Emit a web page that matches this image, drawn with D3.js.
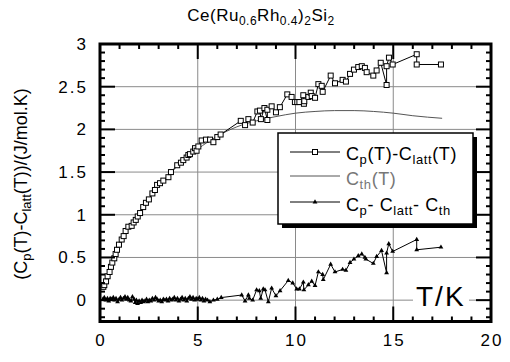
<!DOCTYPE html>
<html><head><meta charset="utf-8">
<script src="https://cdn.jsdelivr.net/npm/d3@7"></script>
<style>body{margin:0;background:#fff}svg{display:block;font-family:"Liberation Sans",Arial,sans-serif}</style>
</head><body><svg id="c" width="510" height="362"></svg>
<script>
// Cp(T)-Clatt(T) : [T, value]
const cpClatt = [[0.17,0.156],[0.22,0.176],[0.31,0.22],[0.39,0.28],[0.49,0.33],[0.56,0.39],[0.63,0.44],[0.73,0.49],[0.80,0.54],[0.87,0.59],[0.97,0.65],[1.11,0.71],[1.21,0.75],[1.31,0.81],[1.45,0.86],[1.62,0.87],[1.72,0.91],[1.83,0.94],[1.93,0.98],[2.05,1.02],[2.21,1.09],[2.35,1.14],[2.50,1.18],[2.68,1.25],[2.81,1.29],[2.92,1.35],[3.07,1.37],[3.24,1.40],[3.50,1.44],[3.63,1.50],[3.95,1.58],[4.14,1.61],[4.26,1.64],[4.43,1.67],[4.52,1.70],[4.60,1.71],[4.77,1.74],[4.86,1.78],[4.94,1.75],[5.03,1.80],[5.20,1.87],[5.42,1.88],[5.63,1.88],[5.80,1.85],[6.00,1.91],[6.17,1.94],[7.20,2.10],[7.42,2.05],[7.59,2.12],[7.81,2.08],[8.05,2.21],[8.18,2.22],[8.23,2.12],[8.41,2.25],[8.56,2.11],[8.56,2.23],[8.78,2.27],[9.00,2.20],[9.20,2.26],[9.58,2.41],[9.80,2.38],[9.97,2.32],[10.09,2.32],[10.20,2.32],[10.40,2.40],[10.43,2.30],[10.45,2.33],[10.66,2.38],[10.78,2.43],[10.83,2.39],[11.00,2.37],[11.17,2.53],[11.34,2.51],[11.39,2.44],[11.80,2.63],[12.02,2.54],[12.41,2.58],[12.58,2.56],[12.79,2.65],[12.99,2.70],[13.21,2.73],[13.39,2.74],[13.55,2.72],[13.64,2.67],[13.98,2.63],[14.15,2.69],[14.36,2.78],[14.66,2.52],[14.66,2.74],[14.78,2.84],[14.97,2.76],[16.20,2.88],[16.20,2.76],[17.44,2.76]];
// Cth(T)
const cth = [[0.17,0.14],[0.5,0.34],[1,0.66],[1.5,0.86],[2,1.0],[2.5,1.18],[3,1.35],[3.5,1.46],[4,1.58],[4.5,1.68],[5,1.77],[5.5,1.85],[6,1.92],[7,2.03],[8,2.10],[9,2.15],[10,2.19],[11,2.21],[12,2.22],[13,2.22],[14,2.21],[15,2.19],[16,2.16],[17.5,2.13]];
// Cp - Clatt - Cth
const diff = [[0.15,0.01],[0.22,0.03],[0.3,0.0],[0.38,0.02],[0.45,-0.01],[0.52,0.02],[0.6,0.01],[0.68,0.03],[0.75,0.0],[0.82,0.02],[0.9,-0.02],[0.98,0.01],[1.05,0.03],[1.12,0.0],[1.2,0.02],[1.28,0.04],[1.35,0.01],[1.42,0.03],[1.5,0.0],[1.58,-0.01],[1.66,0.04],[1.74,0.01],[1.8,-0.03],[1.86,0.0],[1.92,-0.04],[2.0,-0.01],[2.08,-0.03],[2.15,0.0],[2.22,-0.02],[2.3,-0.01],[2.38,0.01],[2.45,-0.02],[2.52,0.0],[2.6,-0.01],[2.68,0.02],[2.76,0.0],[2.84,0.03],[2.92,0.01],[3.0,-0.01],[3.08,0.0],[3.16,-0.02],[3.24,0.01],[3.32,0.0],[3.4,0.01],[3.48,-0.01],[3.56,0.02],[3.64,0.0],[3.72,0.01],[3.8,0.03],[3.88,0.0],[3.96,0.02],[4.04,-0.01],[4.12,0.01],[4.2,0.03],[4.28,0.0],[4.36,0.02],[4.44,-0.01],[4.52,0.02],[4.6,0.04],[4.68,0.01],[4.76,0.03],[4.84,0.0],[4.92,0.02],[5.0,0.01],[5.08,0.03],[5.16,0.0],[5.24,0.02],[5.32,-0.01],[5.4,0.01],[5.5,0.0],[5.62,-0.02],[5.8,0.0],[6.0,0.01],[6.2,0.03],[7.25,0.06],[7.42,-0.01],[7.59,0.06],[7.64,0.02],[7.81,0.0],[8.01,0.12],[8.15,0.11],[8.22,0.02],[8.35,0.13],[8.44,0.12],[8.61,-0.02],[8.78,0.14],[9.0,0.05],[9.21,0.11],[9.63,0.23],[9.86,0.20],[10.06,0.13],[10.2,0.13],[10.4,0.21],[10.43,0.12],[10.66,0.18],[10.83,0.22],[11.0,0.17],[11.17,0.33],[11.39,0.30],[11.42,0.24],[11.8,0.42],[12.02,0.33],[12.41,0.36],[12.58,0.35],[12.79,0.44],[12.99,0.48],[13.21,0.52],[13.39,0.54],[13.55,0.50],[13.6,0.48],[13.98,0.43],[14.15,0.51],[14.4,0.58],[14.66,0.32],[14.66,0.55],[14.77,0.66],[14.97,0.57],[16.2,0.71],[16.2,0.59],[17.44,0.62]];
const xTickLabels = ["0","5","10","15","20"];
const yTickLabels = ["0","0.5","1","1.5","2","2.5","3"];

const svg = d3.select("#c");
const x = d3.scaleLinear().domain([0,20]).range([100,491]);
const y = d3.scaleLinear().domain([-0.25,3]).range([321.5,44]);
const L=100,R=491,T=44,B=321.5;

// grid
const g = svg.append("g");
[5,10,15].forEach(v=>g.append("line").attr("x1",x(v)).attr("x2",x(v)).attr("y1",T).attr("y2",B).attr("stroke","#8a8a8a").attr("stroke-width",1));
[0,0.5,1,1.5,2,2.5].forEach(v=>g.append("line").attr("x1",L).attr("x2",R).attr("y1",y(v)).attr("y2",y(v)).attr("stroke","#8a8a8a").attr("stroke-width",1));

// lines
const line = d3.line().x(d=>x(d[0])).y(d=>y(d[1]));
svg.append("path").attr("d",d3.line().x(d=>x(d[0])).y(d=>y(d[1])).curve(d3.curveMonotoneX)(cth)).attr("fill","none").attr("stroke","#555").attr("stroke-width",1);
svg.append("path").attr("d",line(diff)).attr("fill","none").attr("stroke","#000").attr("stroke-width",1);
svg.append("path").attr("d",line(cpClatt)).attr("fill","none").attr("stroke","#000").attr("stroke-width",1);
const tri = d3.symbol().type(d3.symbolTriangle).size(10);
svg.append("g").selectAll("path").data(diff).join("path").attr("d",tri).attr("transform",d=>`translate(${x(d[0])},${y(d[1])})`).attr("fill","#000");
svg.append("g").selectAll("rect").data(cpClatt).join("rect").attr("x",d=>x(d[0])-2.5).attr("y",d=>y(d[1])-2.5).attr("width",5).attr("height",5).attr("fill","#fff").attr("stroke","#000").attr("stroke-width",1);

// frame & ticks
const f = svg.append("g").attr("stroke","#000");
function tk(x1,y1,x2,y2,w){f.append("line").attr("x1",x1).attr("y1",y1).attr("x2",x2).attr("y2",y2).attr("stroke-width",w);}
for(let i=0;i<=20;i++){const px=x(i),maj=i%5===0;const len=maj?15:5;tk(px,B,px,B-len,2);tk(px,T,px,T+len,2);}
for(let k=-2;k<=30;k++){const v=k/10,py=y(v),maj=k%5===0;const len=maj?15:5;tk(L,py,L+len,py,2);tk(R,py,R-len,py,2);}
svg.append("rect").attr("x",L).attr("y",T).attr("width",R-L).attr("height",B-T).attr("fill","none").attr("stroke","#000").attr("stroke-width",3);

// tick labels
const lab = svg.append("g").attr("font-size",17).attr("fill","#000").style("letter-spacing","2px");
xTickLabels.forEach(t=>lab.append("text").attr("x",x(+t)+1).attr("y",346).attr("text-anchor","middle").text(t));
yTickLabels.forEach(t=>lab.append("text").attr("x",88).attr("y",y(+t)+6).attr("text-anchor","end").text(t));

// rich text with subscripts: parts = [[text, isSub], ...]
function rich(el, parts, subSize){
  let prevSub=false;
  parts.forEach(([s,isSub])=>{
    const ts=el.append("tspan").text(s);
    if(isSub && !prevSub){ts.attr("dy",4).attr("font-size",subSize);}
    else if(isSub){ts.attr("font-size",subSize);}
    else if(prevSub){ts.attr("dy",-4);}
    prevSub=isSub;
  });
}

// title
const tt = svg.append("text").attr("x",261).attr("y",21).attr("text-anchor","middle").attr("font-size",17).style("letter-spacing","0.5px");
rich(tt,[["Ce(Ru",0],["0.6",1],["Rh",0],["0.4",1],[")",0],["2",1],["Si",0],["2",1]],12);

// y label
const yl = svg.append("text").attr("transform","translate(27,184) rotate(-90)").attr("text-anchor","middle").attr("font-size",18);
rich(yl,[["(C",0],["p",1],["(T)-C",0],["latt",1],["(T))/(J/mol.K)",0]],13);

// T/K
svg.append("rect").attr("x",413).attr("y",283).attr("width",56).attr("height",26).attr("fill","#fff");
svg.append("text").attr("x",416).attr("y",306).attr("font-size",28).style("letter-spacing","2px").text("T/K");

// legend
const lg = svg.append("g");
lg.append("rect").attr("x",282).attr("y",137).attr("width",195).attr("height",91).attr("fill","#000");
lg.append("rect").attr("x",278).attr("y",133).attr("width",195).attr("height",91).attr("fill","#fff").attr("stroke","#000").attr("stroke-width",1.5);
const rows=[{y:152,lc:"#000",m:"sq"},{y:176,lc:"#555",m:null},{y:202,lc:"#000",m:"tri"}];
rows.forEach(r=>{lg.append("line").attr("x1",290).attr("x2",340).attr("y1",r.y).attr("y2",r.y).attr("stroke",r.lc).attr("stroke-width",1);
 if(r.m==="sq")lg.append("rect").attr("x",312.5).attr("y",r.y-2.5).attr("width",5).attr("height",5).attr("fill","#fff").attr("stroke","#000");
 if(r.m==="tri")lg.append("path").attr("d",tri).attr("transform",`translate(315,${r.y})`).attr("fill","#000");});
const t1=lg.append("text").attr("x",346).attr("y",160).attr("font-size",18).style("letter-spacing","0.6px");
rich(t1,[["C",0],["p",1],["(T)-C",0],["latt",1],["(T)",0]],13);
const t2=lg.append("text").attr("x",346).attr("y",185).attr("font-size",18).attr("fill","#777").style("letter-spacing","0.6px");
rich(t2,[["C",0],["th",1],["(T)",0]],13);
const t3=lg.append("text").attr("x",346).attr("y",211).attr("font-size",18).style("letter-spacing","0.6px");
rich(t3,[["C",0],["p",1],["- C",0],["latt",1],["- C",0],["th",1]],13);
</script></body></html>
